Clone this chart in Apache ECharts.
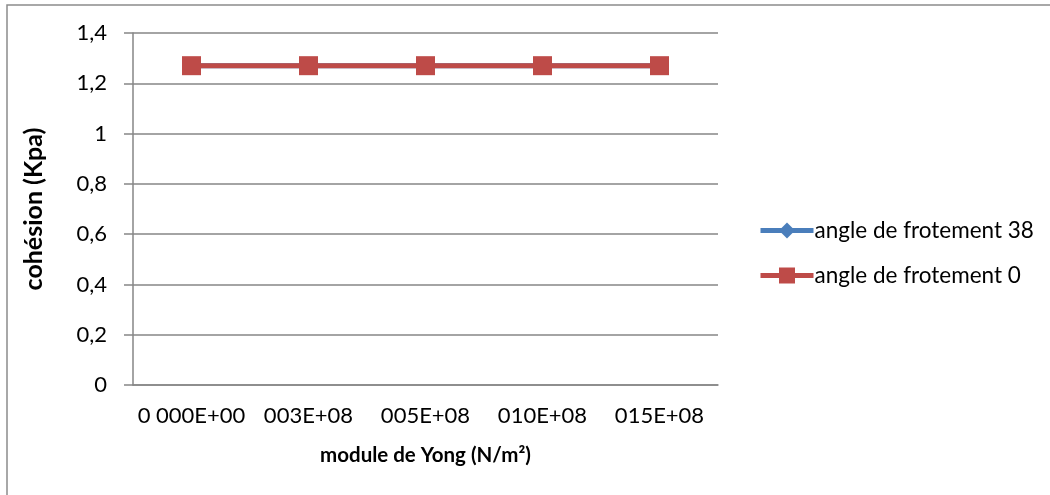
<!DOCTYPE html>
<html>
<head>
<meta charset="utf-8">
<script src="https://cdn.jsdelivr.net/npm/echarts@6/dist/echarts.min.js"></script>
<style>
  html, body { margin: 0; padding: 0; background: #fff; }
  #chart { width: 1050px; height: 495px; }
</style>
</head>
<body>
<div id="chart"></div>
<script>
// data
const categories = ["0 000E+00", "003E+08", "005E+08", "010E+08", "015E+08"];
const angle38 = [1.27, 1.27, 1.27, 1.27, 1.27];
const angle0 = [1.27, 1.27, 1.27, 1.27, 1.27];
const yTicks = [0, 0.2, 0.4, 0.6, 0.8, 1, 1.2, 1.4];

const fontFam = "Lato, 'Open Sans', sans-serif";
const myChart = echarts.init(document.getElementById("chart"));

const option = {
  animation: false,
  backgroundColor: "#fff",
  graphic: [
    {
      type: "rect",
      shape: { x: 7, y: 5, width: 1100, height: 600 },
      style: { fill: "none", stroke: "#8c8c8c", lineWidth: 1.5 },
      silent: true
    }
  ],
  grid: { left: 133, top: 33, width: 585, height: 352 },
  legend: {
    orient: "vertical",
    left: 753,
    top: 214,
    itemGap: 22,
    itemWidth: 53,
    itemHeight: 20,
    textStyle: { fontFamily: fontFam, fontSize: 22.5, color: "#000", padding: [0, 0, 0, -4] },
    data: [
      { name: "angle de frotement 38", lineStyle: { width: 5, color: "#4a7ebb" } },
      { name: "angle de frotement 0", lineStyle: { width: 5, color: "#be4b48" } }
    ]
  },
  xAxis: {
    type: "category",
    data: categories,
    name: "module de Yong (N/m²)",
    nameLocation: "middle",
    nameGap: 60,
    nameTextStyle: { fontFamily: fontFam, fontSize: 20.5, fontWeight: "bold", color: "#000" },
    axisLine: { lineStyle: { color: "#868686", width: 1.5 } },
    axisTick: { show: false },
    axisLabel: { fontFamily: fontFam, fontSize: 22, color: "#000", margin: 20, interval: 0 },
    splitLine: { show: false }
  },
  yAxis: {
    type: "value",
    min: 0,
    max: 1.4,
    interval: 0.2,
    name: "cohésion (Kpa)",
    nameLocation: "middle",
    nameGap: 87,
    nameTextStyle: { fontFamily: fontFam, fontSize: 25, fontWeight: "bold", color: "#000" },
    axisLine: { show: true, lineStyle: { color: "#868686", width: 1.5 } },
    axisTick: { show: true, inside: false, length: 9, lineStyle: { color: "#868686", width: 1.5 } },
    axisLabel: {
      fontFamily: fontFam,
      fontSize: 22,
      color: "#000",
      margin: 26,
      formatter: function (v) {
        const t = yTicks.find(function (k) { return Math.abs(k - v) < 1e-9; });
        return String(t !== undefined ? t : v).replace(".", ",");
      }
    },
    splitLine: { show: true, lineStyle: { color: "#868686", width: 1.5 } }
  },
  series: [
    {
      name: "angle de frotement 38",
      type: "line",
      data: angle38,
      symbol: "diamond",
      symbolSize: 14,
      color: "#4a7ebb",
      lineStyle: { width: 5, color: "#4a7ebb" },
      itemStyle: { color: "#4a7ebb" }
    },
    {
      name: "angle de frotement 0",
      type: "line",
      data: angle0,
      symbol: "rect",
      symbolSize: 19,
      color: "#be4b48",
      lineStyle: { width: 5, color: "#be4b48" },
      itemStyle: { color: "#be4b48" }
    }
  ]
};

if (option && typeof option === "object") myChart.setOption(option);
window.addEventListener("resize", function () {
  myChart.resize();
});
</script>
</body>
</html>
